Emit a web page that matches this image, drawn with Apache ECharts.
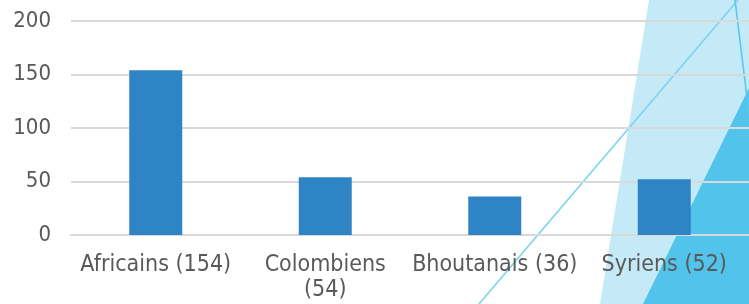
<!DOCTYPE html>
<html>
<head>
<meta charset="utf-8">
<script src="https://cdn.jsdelivr.net/npm/echarts@6/dist/echarts.min.js"></script>
<style>
html,body{margin:0;padding:0;background:#fff;}
#chart{width:749px;height:304px;}
</style>
</head>
<body>
<div id="chart"></div>
<script>
var categories = ['Africains (154)', 'Colombiens\n(54)', 'Bhoutanais (36)', 'Syriens (52)'];
var values = [154, 54, 36, 52];
var yTicks = [0, 50, 100, 150, 200];

var chart = echarts.init(document.getElementById('chart'), null, {renderer: 'canvas'});
var font = '"DejaVu Sans Condensed", "DejaVu Sans", sans-serif';
chart.setOption({
  animation: false,
  backgroundColor: '#ffffff',
  graphic: [
    {type: 'polygon', z: -10, shape: {points: [[649, 0], [760, 0], [760, 304], [600, 304]]}, style: {fill: '#C4EAF8'}},
    {type: 'polygon', z: -9, shape: {points: [[752, 82], [760, 82], [760, 304], [643, 304]]}, style: {fill: '#52C3EA'}},
    {type: 'line', z: -8, shape: {x1: 738, y1: 0, x2: 479, y2: 304}, style: {stroke: '#7DD3F1', lineWidth: 1.6}},
    {type: 'line', z: -8, shape: {x1: 735, y1: 0, x2: 751, y2: 130}, style: {stroke: '#5CC6EC', lineWidth: 1.6}}
  ],
  grid: {left: 71, top: 21, width: 683, height: 214, containLabel: false},
  xAxis: {
    type: 'category',
    data: categories,
    axisLine: {show: true, lineStyle: {color: '#D9D9D9', width: 2}},
    axisTick: {show: false},
    axisLabel: {color: '#595959', fontSize: 23, fontFamily: font, margin: 18, lineHeight: 25, interval: 0}
  },
  yAxis: {
    type: 'value',
    min: yTicks[0],
    max: yTicks[yTicks.length - 1],
    interval: 50,
    axisLine: {show: false},
    axisTick: {show: false},
    splitLine: {lineStyle: {color: '#D9D9D9', width: 2}},
    axisLabel: {color: '#595959', fontSize: 22, fontFamily: font, margin: 20}
  },
  series: [{
    type: 'bar',
    data: values,
    barWidth: 53,
    itemStyle: {color: '#2E84C4'}
  }]
});
</script>
</body>
</html>
